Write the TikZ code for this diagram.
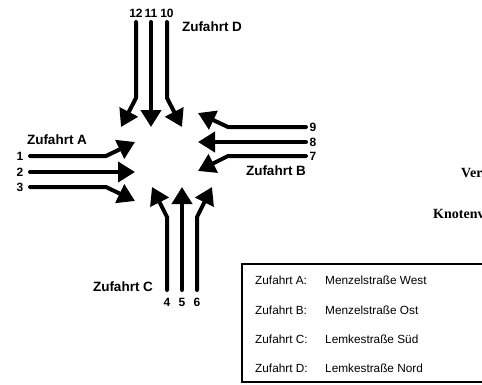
\documentclass[tikz,border=0pt]{standalone}
\usepackage{fontspec}
\setmainfont{Liberation Sans}
\newfontfamily\serifbold{Liberation Serif}
\usetikzlibrary{arrows.meta}
\tikzset{
  flow/.style={line width=4pt, line cap=round, line join=round, draw=black,
    -{Triangle[length=17pt,width=20pt]}},
  lab/.style={font=\fontsize{13.5}{14}\selectfont\bfseries, inner sep=0pt},
  num/.style={font=\fontsize{12}{12}\selectfont\bfseries, inner sep=0pt},
  leg/.style={font=\fontsize{11.8}{12}\selectfont, inner sep=0pt, anchor=west},
  cut/.style={font=\fontsize{14}{14}\selectfont\serifbold\bfseries, inner sep=0pt, anchor=west},
}
\begin{document}
\begin{tikzpicture}[x=1pt,y=-1pt]
\useasboundingbox (0,0) rectangle (482,384);
\clip (0,0) rectangle (482,384);
\fill[white] (0,0) rectangle (482,384);
% --- Zufahrt D (from top)
\coordinate (d12s) at (136,22); \coordinate (d12b) at (136,98); \coordinate (d12t) at (121,127);
\coordinate (d11s) at (151,22); \coordinate (d11t) at (151,127);
\coordinate (d10s) at (167,22); \coordinate (d10b) at (167,98); \coordinate (d10t) at (182,127);
\draw[flow] (d12s) -- (d12b) -- (d12t);
\draw[flow] (d11s) -- (d11t);
\draw[flow] (d10s) -- (d10b) -- (d10t);
\node[num] (n12) at (136,13) {12};
\node[num] (n11) at (151,13) {11};
\node[num] (n10) at (167,13) {10};
\node[lab] (zD) at (212,27) {Zufahrt D};
% --- Zufahrt A (from left)
\coordinate (a1s) at (30,156); \coordinate (a1b) at (106,156); \coordinate (a1t) at (135,142);
\coordinate (a2s) at (30,172); \coordinate (a2t) at (135,172);
\coordinate (a3s) at (30,187); \coordinate (a3b) at (106,187); \coordinate (a3t) at (135,201);
\draw[flow] (a1s) -- (a1b) -- (a1t);
\draw[flow] (a2s) -- (a2t);
\draw[flow] (a3s) -- (a3b) -- (a3t);
\node[num] (n1) at (20,156) {1};
\node[num] (n2) at (20,172) {2};
\node[num] (n3) at (20,187) {3};
\node[lab] (zA) at (57,140) {Zufahrt A};
% --- Zufahrt B (from right)
\coordinate (b9s) at (306,127); \coordinate (b9b) at (228,127); \coordinate (b9t) at (198,113);
\coordinate (b8s) at (306,142); \coordinate (b8t) at (198,142);
\coordinate (b7s) at (306,156); \coordinate (b7b) at (228,156); \coordinate (b7t) at (198,171);
\draw[flow] (b9s) -- (b9b) -- (b9t);
\draw[flow] (b8s) -- (b8t);
\draw[flow] (b7s) -- (b7b) -- (b7t);
\node[num] (n9) at (313,127) {9};
\node[num] (n8) at (313,142) {8};
\node[num] (n7) at (313,156) {7};
\node[lab] (zB) at (276,171) {Zufahrt B};
% --- Zufahrt C (from bottom)
\coordinate (c4s) at (167,290); \coordinate (c4b) at (167,217); \coordinate (c4t) at (152,187);
\coordinate (c5s) at (182,290); \coordinate (c5t) at (182,187);
\coordinate (c6s) at (197,290); \coordinate (c6b) at (197,217); \coordinate (c6t) at (212,187);
\draw[flow] (c4s) -- (c4b) -- (c4t);
\draw[flow] (c5s) -- (c5t);
\draw[flow] (c6s) -- (c6b) -- (c6t);
\node[num] (n4) at (167,302) {4};
\node[num] (n5) at (182,302) {5};
\node[num] (n6) at (197,302) {6};
\node[lab] (zC) at (123,287) {Zufahrt C};
% --- cut-off text at the right edge
\node[cut] (ver) at (461,173) {Ver};
\node[cut] (kno) at (433,214) {Knotenv};
% --- legend
\draw[line width=1.6pt] (242,264) rectangle (495,382);
\node[leg] (l1a) at (255,280) {Zufahrt A:};
\node[leg] (l1b) at (325,280) {Menzelstraße West};
\node[leg] (l2a) at (255,310) {Zufahrt B:};
\node[leg] (l2b) at (325,310) {Menzelstraße Ost};
\node[leg] (l3a) at (255,339) {Zufahrt C:};
\node[leg] (l3b) at (325,339) {Lemkestraße Süd};
\node[leg] (l4a) at (255,368) {Zufahrt D:};
\node[leg] (l4b) at (325,368) {Lemkestraße Nord};
\end{tikzpicture}
\end{document}
